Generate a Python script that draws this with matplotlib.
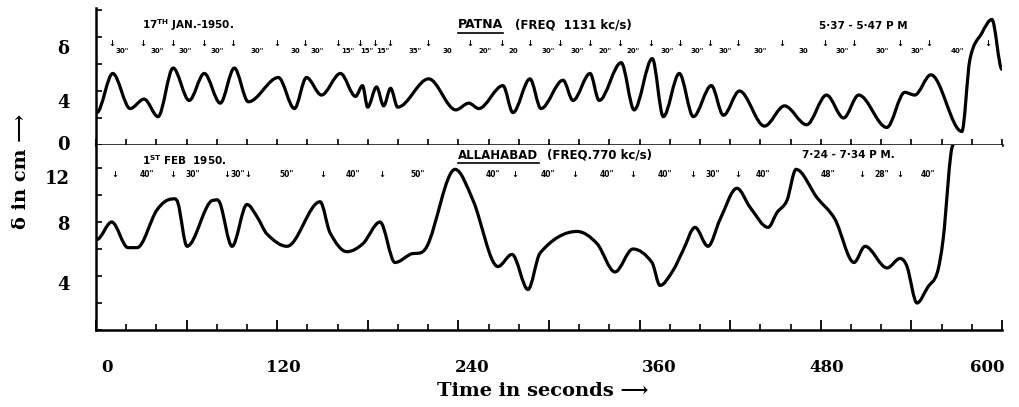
import numpy as np
import matplotlib.pyplot as plt
from matplotlib.path import Path
from matplotlib.patches import PathPatch
from matplotlib.lines import Line2D
from matplotlib.ticker import MultipleLocator

# Patna, 17 Jan 1950 (time in s, delta in cm)
patna_t = [0.5, 11.1, 22.6, 31.9, 41.1, 51.1, 61.7, 71.7, 82.3, 91.6,
           100.9, 120.8, 131.4, 139.4, 149.3, 161.9, 171.9, 176.5, 179.9, 185.8,
           190.5, 195.1, 199.8, 220.3, 238.3, 246.9, 253.5, 269.5, 276.1, 287.4,
           294.7, 309.3, 315.9, 327.2, 333.2, 347.8, 356.4, 368.4, 375.7, 386.3,
           395.6, 407.5, 415.5, 426.1, 442.7, 456.0, 470.6, 483.8, 495.1, 505.1,
           523.7, 535.6, 542.2, 552.9, 573.4, 578.7, 586.7, 593.3, 600.0]
patna_d = [2.4, 5.3, 2.7, 3.4, 2.1, 5.7, 3.3, 5.3, 3.1, 5.7,
           3.2, 5.0, 2.7, 5.0, 3.7, 5.3, 3.6, 4.4, 2.8, 4.3,
           2.9, 4.2, 2.8, 4.9, 2.6, 3.1, 2.7, 4.4, 2.4, 4.9,
           2.7, 4.8, 3.3, 5.3, 3.3, 6.1, 2.6, 6.4, 2.1, 5.3,
           2.1, 4.4, 2.2, 4.0, 1.4, 2.9, 1.5, 3.7, 2.0, 3.7,
           1.3, 3.9, 3.7, 5.2, 1.0, 6.3, 8.3, 9.3, 5.6]

# Allahabad, 1 Feb 1950
alld_t = [0.5, 10.4, 21.2, 27.2, 40.4, 50.3, 54.3, 60.3, 77.5, 82.1,
          90.1, 100.0, 106.6, 113.3, 126.5, 148.4, 155.0, 166.2, 176.8, 188.1,
          198.0, 208.0, 219.2, 237.8, 249.7, 266.2, 275.5, 286.1, 294.1, 318.6,
          331.8, 343.7, 355.6, 368.2, 373.5, 382.1, 388.8, 396.7, 405.3, 413.3,
          424.5, 433.1, 445.1, 451.0, 457.6, 463.6, 477.5, 489.4, 502.0, 509.3,
          523.9, 532.5, 537.1, 543.7, 551.0, 557.0, 561.0, 567.6]
alld_d = [6.7, 8.0, 6.1, 6.1, 8.9, 9.7, 9.4, 6.2, 9.6, 9.4,
          6.2, 9.3, 8.4, 7.1, 6.2, 9.5, 7.2, 5.8, 6.4, 8.0,
          5.0, 5.6, 6.2, 11.9, 9.6, 4.7, 5.6, 3.0, 5.7, 7.3,
          6.4, 4.3, 6.0, 5.0, 3.3, 4.4, 5.9, 7.6, 6.2, 8.2,
          10.5, 9.1, 7.6, 8.7, 9.6, 11.9, 9.8, 8.2, 5.0, 6.2,
          4.6, 5.3, 4.7, 2.0, 3.2, 4.2, 6.7, 13.7]

# hand-written period marks (arrows at peaks, intervals between them)
top_arrow_t = [10.6, 31.1, 51.0, 71.5, 90.7, 119.9, 138.4, 160.3, 174.8, 184.7,
               194.7, 219.8, 247.7, 268.9, 287.4, 307.3, 327.2, 347.0, 367.6, 386.8,
               406.7, 425.2, 454.3, 482.8, 502.0, 532.5, 551.7, 590.8]
top_gap_t = [17.2, 40.4, 58.9, 80.1, 106.6, 131.8, 146.4, 166.9, 179.6, 190.1,
             211.3, 232.5, 257.6, 276.2, 299.4, 318.6, 337.1, 355.6, 378.2, 398.0,
             416.6, 439.8, 468.3, 494.1, 520.6, 543.8, 570.2]
top_gap_lbl = ['30"', '30"', '30"', '30"', '30"', '30', '30"', '15"', '15"', '15"',
               '35"', '30', '20"', '20', '30"', '30"', '20"', '20"', '30"', '30"',
               '30"', '30"', '30', '30"', '30"', '30"', '40"']
bot_arrow_t = [12.6, 51.0, 86.8, 100.7, 150.3, 189.4, 277.5, 317.2, 355.6, 395.4,
               425.2, 507.3, 532.5]
bot_gap_t = [33.8, 64.2, 94.0, 126.5, 170.2, 213.3, 262.9, 299.4, 338.4, 376.8,
             408.6, 441.7, 484.8, 520.6, 551.0]
bot_gap_lbl = ['40"', '30"', '30"', '50"', '40"', '50"', '40"', '40"', '40"', '40"',
               '30"', '40"', '48"', '28"', '40"']

xlabels = ['0', '120', '240', '360', '480', '600']
xlabel_pos = [7, 124, 249, 373, 484, 590]
top_ylabels = ['0', '4', 'δ']
top_ylabel_pos = [0.15, 3.26, 7.26]
bot_ylabels = ['4', '8', '12']
bot_ylabel_pos = [3.48, 7.93, 11.33]

SERIF = ['DejaVu Serif', 'DejaVu Sans']


def trace(t, y):
    # smooth Bezier path through the read points, flat at the turning points
    t = np.asarray(t, float)
    y = np.asarray(y, float)
    m = np.zeros_like(y)
    for i in range(1, len(t) - 1):
        if (y[i] - y[i - 1]) * (y[i + 1] - y[i]) > 0:
            m[i] = (y[i + 1] - y[i - 1]) / (t[i + 1] - t[i - 1])
    verts = [(t[0], y[0])]
    codes = [Path.MOVETO]
    for i in range(len(t) - 1):
        h = t[i + 1] - t[i]
        verts += [(t[i] + h / 3, y[i] + m[i] * h / 3),
                  (t[i + 1] - h / 3, y[i + 1] - m[i + 1] * h / 3),
                  (t[i + 1], y[i + 1])]
        codes += [Path.CURVE4] * 3
    return PathPatch(Path(verts, codes), fill=False, lw=2.3, ec='black',
                     capstyle='round', joinstyle='round')


fig = plt.figure(figsize=(10.2, 4.07), dpi=100)
ax1 = fig.add_axes([96 / 1020, 262 / 407, 906 / 1020, 137 / 407])
ax2 = fig.add_axes([96 / 1020, 77 / 407, 906 / 1020, 185 / 407])

ax1.set_xlim(0, 600)
ax1.set_ylim(0, 137 / 13.5)
ax2.set_xlim(0, 600)
ax2.set_ylim(0, 185 / 13.5)

for ax in (ax1, ax2):
    for s in ('top', 'right'):
        ax.spines[s].set_visible(False)
    for s in ('left', 'bottom'):
        ax.spines[s].set_linewidth(1.8)
    ax.xaxis.set_minor_locator(MultipleLocator(20))
    ax.yaxis.set_minor_locator(MultipleLocator(2))
    ax.tick_params(which='minor', direction='in', length=4, width=1.2)
    ax.tick_params(axis='y', which='major', length=0, pad=19)

ax1.add_patch(trace(patna_t, patna_d))
ax2.add_patch(trace(alld_t, alld_d))

ax1.set_xticks([])
ax1.set_yticks(top_ylabel_pos, top_ylabels, fontsize=13, fontweight='bold',
               family=SERIF)
ax2.set_yticks(bot_ylabel_pos, bot_ylabels, fontsize=13, fontweight='bold',
               family=SERIF)
ax2.set_xticks(range(0, 601, 60), [''] * 11)
ax2.tick_params(axis='x', which='major', direction='in', length=7, width=1.3)

for p, lbl in zip(xlabel_pos, xlabels):
    ax2.text(p, -0.2, lbl, transform=ax2.get_xaxis_transform(), ha='center',
             va='center', fontsize=12, fontweight='bold', family=SERIF)

fig.text(543 / 1020, 1 - 391 / 407, 'Time in seconds ⟶', ha='center', va='center',
         fontsize=14, fontweight='bold', family=SERIF)
fig.text(21 / 1020, 1 - 171 / 407, 'δ in cm ⟶', rotation=90, ha='center',
         va='center', fontsize=14, fontweight='bold', family=SERIF)

hand = dict(fontweight='bold', color='black', va='center')
for t in top_arrow_t:
    ax1.text(t, 7.5, '↓', ha='center', fontsize=6, **hand)
for t, lbl in zip(top_gap_t, top_gap_lbl):
    ax1.text(t, 6.95, lbl, ha='center', fontsize=5, **hand)
for t in bot_arrow_t:
    ax2.text(t, 11.5, '↓', ha='center', fontsize=6, **hand)
for t, lbl in zip(bot_gap_t, bot_gap_lbl):
    ax2.text(t, 11.5, lbl, ha='center', fontsize=5.5, **hand)

ax1.text(60.9, 8.9, r'17$^{\mathbf{TH}}$ JAN.-1950.', ha='center', fontsize=7.5, **hand)
ax1.text(508, 8.8, '5·37 - 5·47 P M', ha='center', fontsize=7.5, **hand)
patna = ax1.text(239.8, 8.9, 'PATNA', ha='left', fontsize=9, **hand)
ax1.text(277.5, 8.9, '(FREQ  1131 kc/s)', ha='left', fontsize=8.5, **hand)

ax2.text(58.3, 12.6, r'1$^{\mathbf{ST}}$ FEB  1950.', ha='center', fontsize=7.5, **hand)
ax2.text(498, 13.0, '7·24 - 7·34 P M.', ha='center', fontsize=7.5, **hand)
allah = ax2.text(240, 12.95, 'ALLAHABAD', ha='left', fontsize=8.5, **hand)
ax2.text(298.5, 12.95, '(FREQ.770 kc/s)', ha='left', fontsize=8.5, **hand)

fig.canvas.draw()
W, H = fig.bbox.width, fig.bbox.height
for txt in (patna, allah):
    bb = txt.get_window_extent()
    fig.add_artist(Line2D([bb.x0 / W, bb.x1 / W], [(bb.y0 - 1.5) / H] * 2,
                          color='black', lw=1.2))

fig.savefig('out.png', dpi=100, facecolor='white')
